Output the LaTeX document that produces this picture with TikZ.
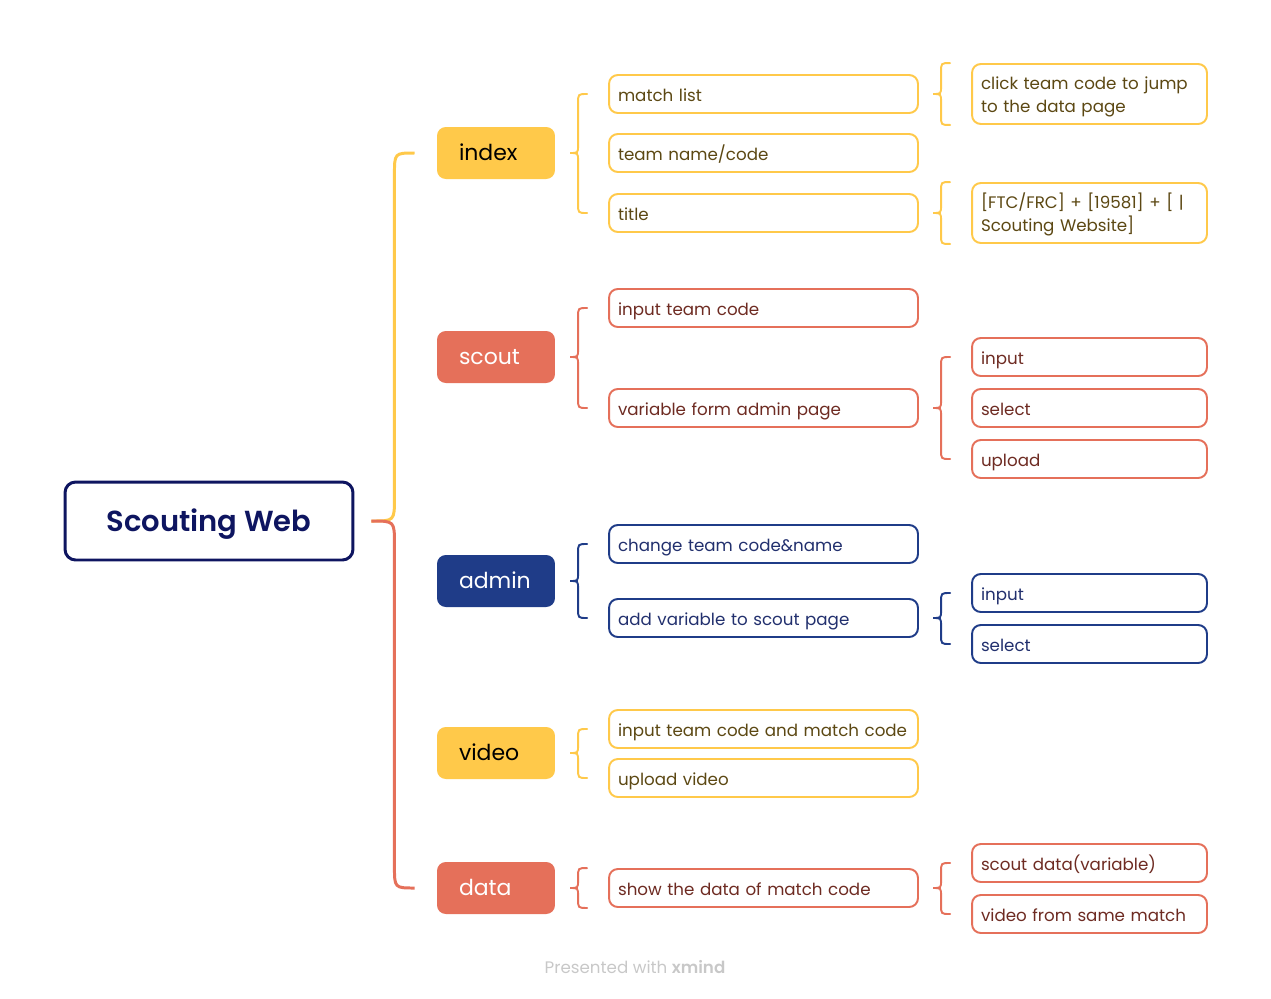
\documentclass[tikz,border=0pt]{standalone}
\usepackage{fontspec}
\setmainfont{Poppins}[BoldFont={Poppins SemiBold}]
\usetikzlibrary{calc}

\definecolor{yellowc}{HTML}{FFC94A}
\definecolor{redc}{HTML}{E5705A}
\definecolor{bluec}{HTML}{1F3C88}
\definecolor{navyc}{HTML}{0E1560}
\definecolor{yellowt}{HTML}{5C4813}
\definecolor{redt}{HTML}{6E2B22}
\definecolor{bluet}{HTML}{22306E}
\definecolor{markc}{HTML}{C8C8C8}

\tikzset{
  topic/.style={rectangle, rounded corners=5pt, minimum width=2.36cm, minimum height=1.04cm, text width=1.48cm, inner xsep=0.44cm, align=left, text height=8pt, text depth=0pt, font=\fontsize{12.5}{15}\selectfont},
  subtopic/.style={rectangle, draw, fill=white, line width=1.1pt, rounded corners=5pt, minimum width=6.18cm, minimum height=0.76cm, text width=5.82cm, inner xsep=0.18cm, align=left, text height=8.5pt, text depth=0pt, font=\fontsize{9.5}{13}\selectfont},
  leaf/.style={subtopic, minimum width=4.7cm, text width=4.34cm},
  twoline/.style={minimum height=1.2cm, text height=8pt, text depth=13pt},
  bracel/.style={line width=1.1pt, line cap=round},
  trunk/.style={line width=1.7pt},
}

% curly brace from a parent to its children
\newcommand{\bracelink}[4]{%
  \draw[bracel,#1] let \p1=(#2), \p2=(#3), \p3=(#4) in
    (\x2-0.42cm,\y2) .. controls (\x2-0.6cm,\y2) .. (\x2-0.6cm,\y2-0.18cm)
    -- (\x2-0.6cm,\y1+0.16cm) .. controls (\x2-0.6cm,\y1) .. (\x2-0.76cm,\y1)
    .. controls (\x2-0.6cm,\y1) .. (\x2-0.6cm,\y1-0.16cm)
    -- (\x2-0.6cm,\y3+0.18cm) .. controls (\x2-0.6cm,\y3) .. (\x2-0.42cm,\y3);
}

\begin{document}
\begin{tikzpicture}[x=0.02cm, y=-0.02cm]

\useasboundingbox (0,0) rectangle (1271,998);

\node at (209,521)[rectangle, draw=navyc, line width=1.7pt, rounded corners=6pt, minimum width=5.76cm, minimum height=1.56cm, text=navyc, text height=11.5pt, text depth=0pt, font=\fontsize{16.5}{20}\selectfont\bfseries] (root) {Scouting Web};

\node at (496,153)[topic, fill=yellowc, text=black] (index) {index};
\node at (496,357)[topic, fill=redc, text=white] (scout) {scout};
\node at (496,581)[topic, fill=bluec, text=white] (admin) {admin};
\node at (496,753)[topic, fill=yellowc, text=black] (video) {video};
\node at (496,888)[topic, fill=redc, text=white] (data) {data};

\draw[trunk, yellowc] let \p1=($(root.east)+(0.34cm,0)$), \p2=($(index.west)+(-0.44cm,0)$) in
  (\p1) .. controls (\x1+0.46cm,\y1) .. (\x1+0.46cm,\y1+0.46cm) -- (\x1+0.46cm,\y2-0.44cm) .. controls (\x1+0.46cm,\y2) .. (\p2);
\draw[trunk, redc] let \p1=($(root.east)+(0.34cm,0)$), \p2=($(data.west)+(-0.44cm,0)$) in
  (\p1) .. controls (\x1+0.46cm,\y1) .. (\x1+0.46cm,\y1-0.46cm) -- (\x1+0.46cm,\y2+0.44cm) .. controls (\x1+0.46cm,\y2) .. (\p2);

% second level
\node at (763.5,94)[subtopic, draw=yellowc, text=yellowt] (mlist) {match list};
\node at (763.5,153)[subtopic, draw=yellowc, text=yellowt] (tname) {team name/code};
\node at (763.5,213)[subtopic, draw=yellowc, text=yellowt] (title) {title};
\node at (763.5,308)[subtopic, draw=redc, text=redt] (itcode) {input team code};
\node at (763.5,408)[subtopic, draw=redc, text=redt] (varform) {variable form admin page};
\node at (763.5,544)[subtopic, draw=bluec, text=bluet] (chgteam) {change team code\&name};
\node at (763.5,618)[subtopic, draw=bluec, text=bluet] (addvar) {add variable to scout page};
\node at (763.5,729)[subtopic, draw=yellowc, text=yellowt] (itmatch) {input team code and match code};
\node at (763.5,778)[subtopic, draw=yellowc, text=yellowt] (upvid) {upload video};
\node at (763.5,888)[subtopic, draw=redc, text=redt] (showdata) {show the data of match code};

% third level
\node at (1089.5,94)[leaf, twoline, draw=yellowc, text=yellowt] (jump) {click team code to jump\\to the data page};
\node at (1089.5,213)[leaf, twoline, draw=yellowc, text=yellowt] (sitename) {[FTC/FRC] + [19581] + [ |\\Scouting Website]};
\node at (1089.5,357)[leaf, draw=redc, text=redt] (sinput) {input};
\node at (1089.5,408)[leaf, draw=redc, text=redt] (sselect) {select};
\node at (1089.5,459)[leaf, draw=redc, text=redt] (supload) {upload};
\node at (1089.5,593)[leaf, draw=bluec, text=bluet] (ainput) {input};
\node at (1089.5,644)[leaf, draw=bluec, text=bluet] (aselect) {select};
\node at (1089.5,863)[leaf, draw=redc, text=redt] (sdata) {scout data(variable)};
\node at (1089.5,914)[leaf, draw=redc, text=redt] (vsame) {video from same match};

\bracelink{yellowc}{index.east}{mlist.west}{title.west}
\bracelink{redc}{scout.east}{itcode.west}{varform.west}
\bracelink{bluec}{admin.east}{chgteam.west}{addvar.west}
\bracelink{yellowc}{video.east}{itmatch.west}{upvid.west}
\bracelink{redc}{data.east}{showdata.north west}{showdata.south west}

\bracelink{yellowc}{mlist.east}{jump.north west}{jump.south west}
\bracelink{yellowc}{title.east}{sitename.north west}{sitename.south west}
\bracelink{redc}{varform.east}{sinput.west}{supload.west}
\bracelink{bluec}{addvar.east}{ainput.west}{aselect.west}
\bracelink{redc}{showdata.east}{sdata.west}{vsame.west}

\node at (635,967)[text=markc, font=\fontsize{9.5}{11}\selectfont] (mark) {Presented with \textbf{xmind}};

\end{tikzpicture}
\end{document}
